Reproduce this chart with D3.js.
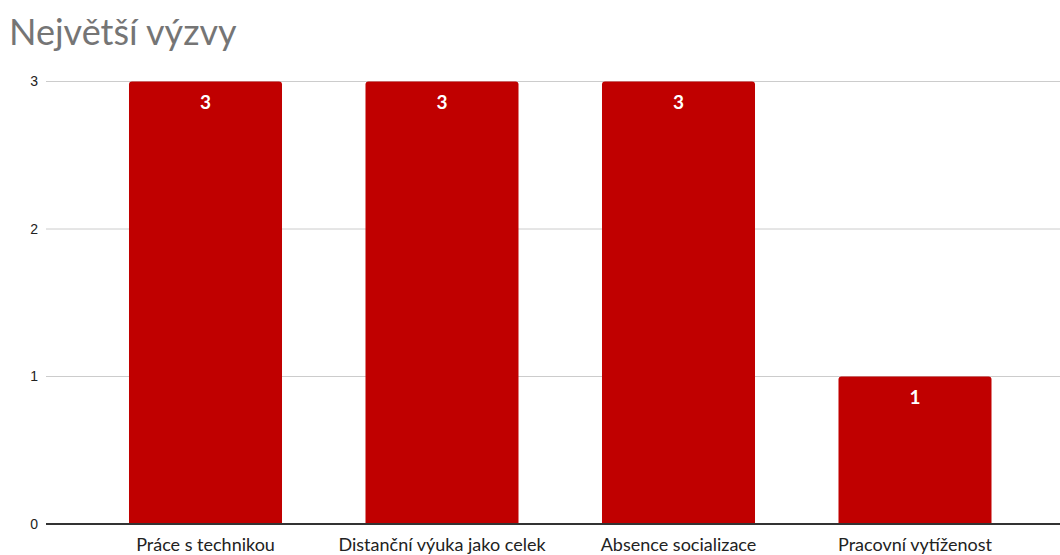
<!DOCTYPE html>
<html><head><meta charset="utf-8">
<script src="https://cdn.jsdelivr.net/npm/d3@7"></script>
<style>body{margin:0;background:#fff}svg{display:block}</style>
</head><body>
<svg id="c" width="1060" height="555"></svg>
<script>
const title = "Největší výzvy";
const categories = ["Práce s technikou", "Distanční výuka jako celek", "Absence socializace", "Pracovní vytíženost"];
const values = [3, 3, 3, 1];
const yTicks = [0, 1, 2, 3];

const svg = d3.select("#c");
const x = d3.scaleBand().domain(categories).range([87.25, 1033.25]).paddingInner(0.353).paddingOuter(0.1765);
const y = d3.scaleLinear().domain([0, 3]).range([524, 81.5]);

svg.append("text").attr("x", 9).attr("y", 45).text(title)
  .attr("font-family", "Lato").attr("font-size", 36).attr("fill", "#757575");

// gridlines
svg.append("g").selectAll("line").data(yTicks.filter(d => d > 0)).join("line")
  .attr("x1", 46).attr("x2", 1060).attr("y1", d => y(d)).attr("y2", d => y(d))
  .attr("stroke", "#cccccc").attr("stroke-width", 1);

const yAxis = svg.append("g").attr("transform", "translate(46,0)")
  .call(d3.axisLeft(y).tickValues(yTicks).tickSize(0).tickPadding(8).tickFormat(d3.format("d")));
yAxis.select(".domain").remove();
yAxis.selectAll("text").attr("font-family", "Liberation Sans, Arial").attr("font-size", 14).attr("fill", "#222");

// bars with rounded top
const r = 3;
svg.append("g").selectAll("path").data(values).join("path")
  .attr("fill", "#c00000")
  .attr("d", (d, i) => {
    const x0 = x(categories[i]), w = x.bandwidth(), y0 = y(d), yb = y(0);
    return `M${x0},${yb}V${y0 + r}Q${x0},${y0} ${x0 + r},${y0}H${x0 + w - r}Q${x0 + w},${y0} ${x0 + w},${y0 + r}V${yb}Z`;
  });

// baseline
svg.append("line").attr("x1", 46).attr("x2", 1060).attr("y1", y(0)).attr("y2", y(0))
  .attr("stroke", "#333").attr("stroke-width", 2);

// value labels
svg.append("g").selectAll("text").data(values).join("text")
  .attr("x", (d, i) => x(categories[i]) + x.bandwidth() / 2)
  .attr("y", d => y(d) + 27)
  .attr("text-anchor", "middle").attr("font-family", "Lato").attr("font-weight", "bold")
  .attr("font-size", 19).attr("fill", "#fff").text(d => d);

// category axis
const xAxis = svg.append("g").attr("transform", `translate(0,${y(0)})`)
  .call(d3.axisBottom(x).tickSize(0).tickPadding(14));
xAxis.select(".domain").remove();
xAxis.selectAll("text").attr("font-family", "Lato").attr("font-size", 18).attr("fill", "#222");
</script>
</body></html>
